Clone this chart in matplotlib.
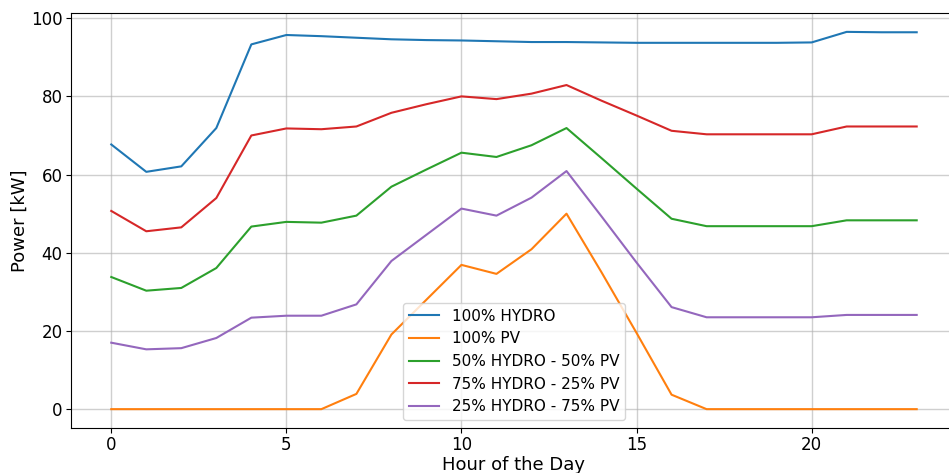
import matplotlib.pyplot as plt

hours = list(range(24))

# Power per hour [kW]
hydro_100 = [67.7, 60.7, 62.1, 71.9, 93.3, 95.7, 95.4, 95.0, 94.6, 94.4, 94.3, 94.1,
             93.9, 93.9, 93.8, 93.7, 93.7, 93.7, 93.7, 93.7, 93.8, 96.5, 96.4, 96.4]
pv_100 = [0, 0, 0, 0, 0, 0, 0, 3.9, 19.1, 28.0, 36.9, 34.6,
          40.9, 50.0, 35.0, 19.5, 3.7, 0, 0, 0, 0, 0, 0, 0]
hydro50_pv50 = [33.8, 30.3, 31.0, 36.1, 46.7, 47.9, 47.7, 49.5, 56.9, 61.3, 65.6, 64.5,
                67.5, 71.9, 64.2, 56.4, 48.7, 46.8, 46.8, 46.8, 46.8, 48.3, 48.3, 48.3]
hydro75_pv25 = [50.7, 45.5, 46.5, 54.0, 70.0, 71.8, 71.6, 72.3, 75.8, 78.0, 80.0, 79.3,
                80.7, 82.9, 78.9, 75.1, 71.2, 70.3, 70.3, 70.3, 70.3, 72.3, 72.3, 72.3]
hydro25_pv75 = [17.0, 15.3, 15.6, 18.2, 23.4, 23.9, 23.9, 26.8, 37.9, 44.6, 51.3, 49.5,
                54.1, 60.9, 49.3, 37.5, 26.1, 23.5, 23.5, 23.5, 23.5, 24.1, 24.1, 24.1]

fig = plt.figure(figsize=(9.49, 4.73), dpi=100)
# the original image is cropped on the right, so the axes run past the figure edge
ax = fig.add_axes([0.0748, 0.0951, 0.9336, 0.8774])

ax.plot(hours, hydro_100, color='#1f77b4', label='100% HYDRO')
ax.plot(hours, pv_100, color='#ff7f0e', label='100% PV')
ax.plot(hours, hydro50_pv50, color='#2ca02c', label='50% HYDRO - 50% PV')
ax.plot(hours, hydro75_pv25, color='#d62728', label='75% HYDRO - 25% PV')
ax.plot(hours, hydro25_pv75, color='#9467bd', label='25% HYDRO - 75% PV')

ax.grid(True, color='#b0b0b0', alpha=0.6, linewidth=1)
ax.set_xlabel('Hour of the Day', fontsize=13, labelpad=1)
ax.set_ylabel('Power [kW]', fontsize=13, labelpad=2)
ax.tick_params(labelsize=12, pad=2.5)
ax.legend(loc='lower center', fontsize=11)

fig.savefig('out.png', dpi=100)
